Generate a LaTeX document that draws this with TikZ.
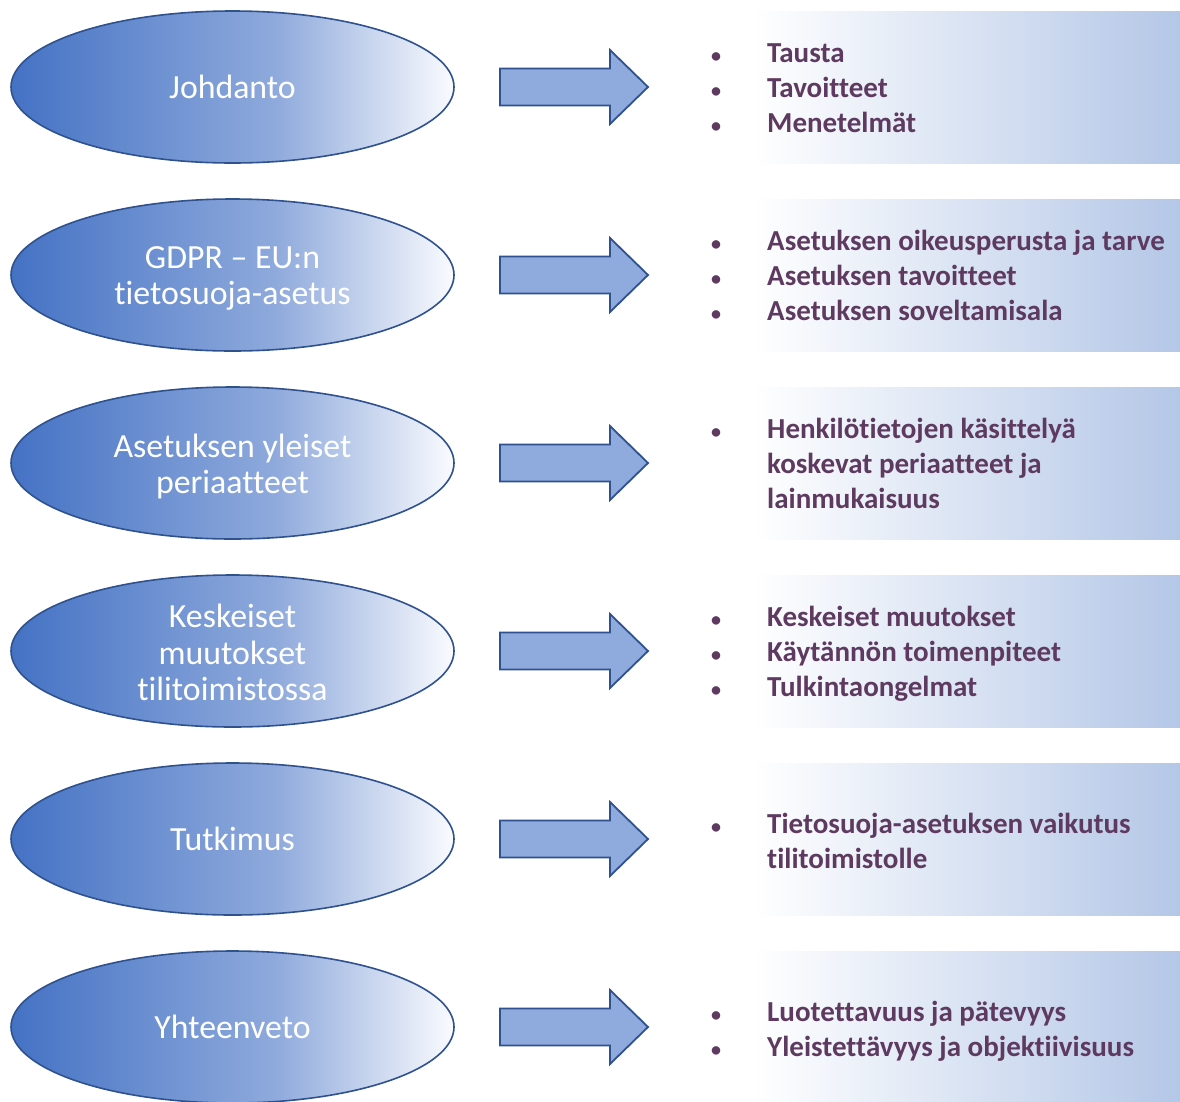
\documentclass[tikz,border=0pt]{standalone}
\usepackage{fontspec}
\setmainfont{Carlito}[Ligatures=NoCommon]
\usetikzlibrary{shapes.geometric}

\definecolor{ovalblue}{HTML}{4472C4}
\definecolor{ovalmid}{HTML}{8FAADC}
\definecolor{ovalend}{HTML}{FAFBFE}
\definecolor{edgeblue}{HTML}{2F528F}
\definecolor{arrowfill}{HTML}{8FAADC}
\definecolor{panelend}{HTML}{B4C7E7}
\definecolor{itemtext}{HTML}{5E3A60}

% the shaded part of a 100bp shading is the band 25bp..75bp
\pgfdeclarehorizontalshading{ovalshade}{100bp}{color(0bp)=(ovalblue); color(25bp)=(ovalblue); color(55bp)=(ovalmid); color(75bp)=(ovalend); color(100bp)=(ovalend)}
\pgfdeclarehorizontalshading{panelshade}{100bp}{color(0bp)=(white); color(25bp)=(white); color(75bp)=(panelend); color(100bp)=(panelend)}

\tikzset{
  topic/.style={ellipse, draw=edgeblue, line width=1.6pt, shading=ovalshade,
    minimum width=443pt, minimum height=152pt, inner sep=0pt},
  topiclabel/.style={text=white, align=center, inner sep=0pt,
    font=\fontsize{33.8}{36.8}\selectfont},
  panel/.style={rectangle, shading=panelshade, anchor=west, inner sep=0pt,
    minimum width=427pt, minimum height=152pt},
  itemline/.style={anchor=base west, text=itemtext, inner sep=0pt,
    font=\fontsize{29}{35}\bfseries\selectfont},
  itemdot/.style={anchor=base, text=itemtext, inner sep=0pt,
    font=\fontsize{20}{35}\bfseries\selectfont},
  blockarrow/.pic={
    \draw[draw=edgeblue, fill=arrowfill, line width=1.8pt, line join=miter]
      (0,-18.5) -- (110,-18.5) -- (110,-37) -- (148,0) -- (110,37)
      -- (110,18.5) -- (0,18.5) -- cycle;
  }
}

\begin{document}
\begin{tikzpicture}[x=1pt,y=-1pt]
\clip (0,0) rectangle (1180,1101);
\fill[white] (0,0) rectangle (1180,1101);

% row 1
\begin{scope}[shift={(0,87)}]
  \node[topic] (t1) at (232.5,0) {};
  \node[topiclabel] (t1text) at (232.5,0) {Johdanto};
  \pic at (500,0) {blockarrow};
  \node[panel] (p1) at (753,0) {};
  \node[itemdot] (p1d1) at (716,-25) {•};
  \node[itemline] (p1i1) at (767,-25) {Tausta};
  \node[itemdot] (p1d2) at (716,10) {•};
  \node[itemline] (p1i2) at (767,10) {Tavoitteet};
  \node[itemdot] (p1d3) at (716,45) {•};
  \node[itemline] (p1i3) at (767,45) {Menetelmät};
\end{scope}

% row 2
\begin{scope}[shift={(0,275)}]
  \node[topic] (t2) at (232.5,0) {};
  \node[topiclabel] (t2text) at (232.5,3.5) {GDPR – EU:n\\tietosuoja-asetus};
  \pic at (500,0) {blockarrow};
  \node[panel] (p2) at (753,0) {};
  \node[itemdot] (p2d1) at (716,-25) {•};
  \node[itemline] (p2i1) at (767,-25) {Asetuksen oikeusperusta ja tarve};
  \node[itemdot] (p2d2) at (716,10) {•};
  \node[itemline] (p2i2) at (767,10) {Asetuksen tavoitteet};
  \node[itemdot] (p2d3) at (716,45) {•};
  \node[itemline] (p2i3) at (767,45) {Asetuksen soveltamisala};
\end{scope}

% row 3
\begin{scope}[shift={(0,463)}]
  \node[topic] (t3) at (232.5,0) {};
  \node[topiclabel] (t3text) at (232.5,3.5) {Asetuksen yleiset\\periaatteet};
  \pic at (500,0) {blockarrow};
  \node[panel] (p3) at (753,0) {};
  \node[itemdot] (p3d1) at (716,-25) {•};
  \node[itemline] (p3i1) at (767,-25) {Henkilötietojen käsittelyä};
  \node[itemline] (p3i2) at (767,10) {koskevat periaatteet ja};
  \node[itemline] (p3i3) at (767,45) {lainmukaisuus};
\end{scope}

% row 4
\begin{scope}[shift={(0,651)}]
  \node[topic] (t4) at (232.5,0) {};
  \node[topiclabel] (t4text) at (232.5,1.5) {Keskeiset\\muutokset\\tilitoimistossa};
  \pic at (500,0) {blockarrow};
  \node[panel] (p4) at (753,0) {};
  \node[itemdot] (p4d1) at (716,-25) {•};
  \node[itemline] (p4i1) at (767,-25) {Keskeiset muutokset};
  \node[itemdot] (p4d2) at (716,10) {•};
  \node[itemline] (p4i2) at (767,10) {Käytännön toimenpiteet};
  \node[itemdot] (p4d3) at (716,45) {•};
  \node[itemline] (p4i3) at (767,45) {Tulkintaongelmat};
\end{scope}

% row 5
\begin{scope}[shift={(0,839)}]
  \node[topic] (t5) at (232.5,0) {};
  \node[topiclabel] (t5text) at (232.5,0) {Tutkimus};
  \pic at (500,0) {blockarrow};
  \node[panel] (p5) at (753,0) {};
  \node[itemdot] (p5d1) at (716,-5.5) {•};
  \node[itemline] (p5i1) at (767,-5.5) {Tietosuoja-asetuksen vaikutus};
  \node[itemline] (p5i2) at (767,29.5) {tilitoimistolle};
\end{scope}

% row 6
\begin{scope}[shift={(0,1027)}]
  \node[topic] (t6) at (232.5,0) {};
  \node[topiclabel] (t6text) at (232.5,0) {Yhteenveto};
  \pic at (500,0) {blockarrow};
  \node[panel] (p6) at (753,0) {};
  \node[itemdot] (p6d1) at (716,-5.5) {•};
  \node[itemline] (p6i1) at (767,-5.5) {Luotettavuus ja pätevyys};
  \node[itemdot] (p6d2) at (716,29.5) {•};
  \node[itemline] (p6i2) at (767,29.5) {Yleistettävyys ja objektiivisuus};
\end{scope}
\end{tikzpicture}
\end{document}
